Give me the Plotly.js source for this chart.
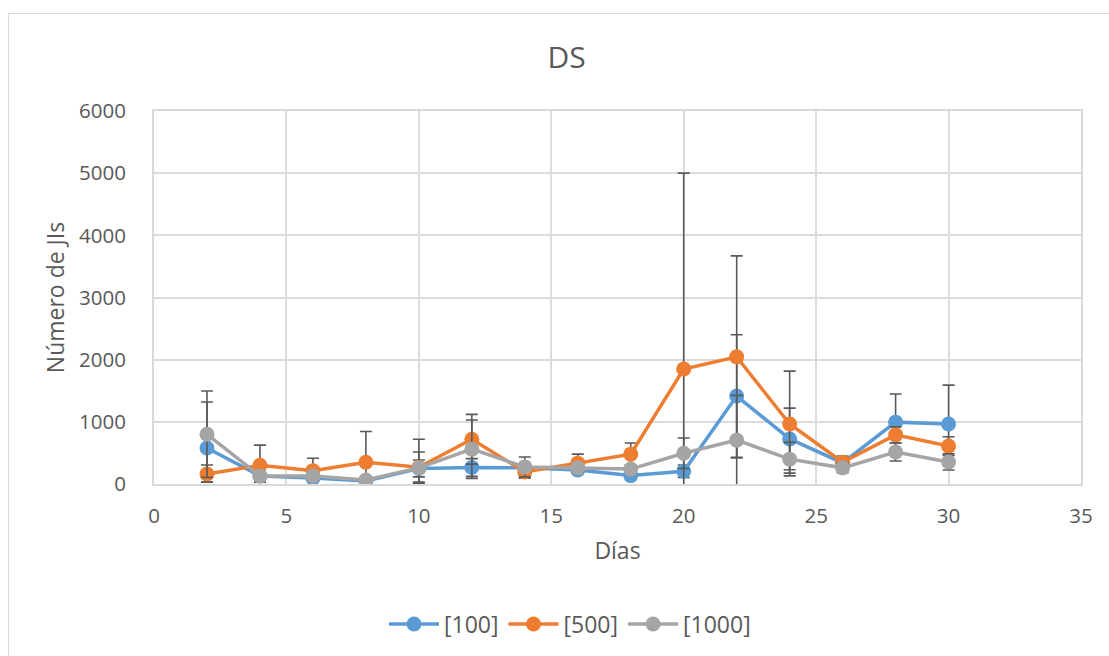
<!DOCTYPE html>
<html>
<head>
<meta charset="utf-8">
<script src="https://cdn.plot.ly/plotly-3.0.1.min.js"></script>
<style>
  html, body { margin: 0; padding: 0; background: #fff; }
  #chart { width: 1109px; height: 656px; position: relative; }
  #frame { position: absolute; left: 8px; top: 13px; width: 1120px; height: 700px;
           border: 1px solid #d9d9d9; pointer-events: none; }
</style>
</head>
<body>
<div id="chart"></div>
<div id="frame"></div>
<script>
const dias = [2, 4, 6, 8, 10, 12, 14, 16, 18, 20, 22, 24, 26, 28, 30];

const seriesNames = ['[100]', '[500]', '[1000]'];

const v100 = [580, 130, 95, 50, 250, 265, 260, 225, 135, 205, 1415, 725, 340, 995, 965];
const e100Plus = [740, 50, 50, 30, 135, 143, 60, 60, 60, 100, 985, 496, 80, 453, 625];
const e100Minus = [550, 50, 50, 30, 135, 143, 60, 60, 60, 100, 985, 496, 80, 453, 625];

const v500 = [160, 300, 215, 350, 270, 720, 195, 335, 480, 1850, 2045, 965, 350, 790, 610];
const e500Plus = [145, 325, 200, 495, 450, 400, 100, 145, 180, 3150, 1625, 850, 100, 130, 150];
const e500Minus = [130, 270, 150, 290, 240, 400, 100, 145, 180, 3150, 1625, 790, 100, 130, 150];

const v1000 = [800, 130, 130, 65, 260, 560, 275, 260, 240, 495, 705, 400, 260, 515, 355];
const e1000Plus = [695, 60, 60, 40, 255, 470, 160, 60, 60, 245, 720, 270, 80, 145, 130];
const e1000Minus = [695, 60, 60, 40, 255, 470, 160, 60, 60, 245, 720, 270, 80, 145, 130];

const colors = ['#5B9BD5', '#ED7D31', '#A5A5A5'];
const values = [v100, v500, v1000];
const plus = [e100Plus, e500Plus, e1000Plus];
const minus = [e100Minus, e500Minus, e1000Minus];

const FONT = '"Open Sans", "Liberation Sans", sans-serif';
const TXT = '#595959';

const traces = seriesNames.map((name, i) => ({
  type: 'scatter',
  mode: 'lines+markers',
  name: name,
  x: dias,
  y: values[i],
  line: { color: colors[i], width: 3.5 },
  marker: { color: colors[i], size: 15 },
  error_y: {
    type: 'data',
    symmetric: false,
    array: plus[i],
    arrayminus: minus[i],
    color: '#595959',
    thickness: 1.6,
    width: 6
  }
}));

const layout = {
  width: 1109,
  height: 656,
  margin: { l: 154, r: 28, t: 111, b: 172 },
  paper_bgcolor: '#ffffff',
  plot_bgcolor: '#ffffff',
  font: { family: FONT, color: TXT, size: 20 },
  title: {
    text: 'DS',
    font: { family: FONT, size: 30, color: TXT },
    x: 0.511, xref: 'container', xanchor: 'center',
    y: 1 - 57 / 656, yref: 'container', yanchor: 'middle'
  },
  xaxis: {
    range: [0, 35],
    dtick: 5,
    tick0: 0,
    showgrid: true,
    gridcolor: '#dcdcdc',
    gridwidth: 2,
    zeroline: false,
    showline: true,
    linecolor: '#d9d9d9',
    linewidth: 2,
    mirror: true,
    ticks: 'outside',
    ticklen: 12,
    tickcolor: 'rgba(0,0,0,0)',
    tickfont: { family: FONT, size: 20.5, color: TXT },
    title: { text: 'Días', font: { family: FONT, size: 23, color: TXT }, standoff: 15 }
  },
  yaxis: {
    range: [0, 6000],
    dtick: 1000,
    tick0: 0,
    showgrid: true,
    gridcolor: '#dcdcdc',
    gridwidth: 2,
    zeroline: false,
    showline: true,
    linecolor: '#d9d9d9',
    linewidth: 2,
    mirror: true,
    ticks: 'outside',
    ticklen: 22,
    tickcolor: 'rgba(0,0,0,0)',
    tickfont: { family: FONT, size: 20.5, color: TXT },
    title: { text: 'Número de JIs', font: { family: FONT, size: 23, color: TXT }, standoff: 8 }
  },
  showlegend: true,
  legend: {
    orientation: 'h',
    x: 570 / 1109, xref: 'container', xanchor: 'center',
    y: 1 - 624 / 656, yref: 'container', yanchor: 'middle',
    font: { family: FONT, size: 23, color: TXT },
    itemwidth: 50
  }
};

Plotly.newPlot('chart', traces, layout, { displayModeBar: false, staticPlot: true });
</script>
</body>
</html>
